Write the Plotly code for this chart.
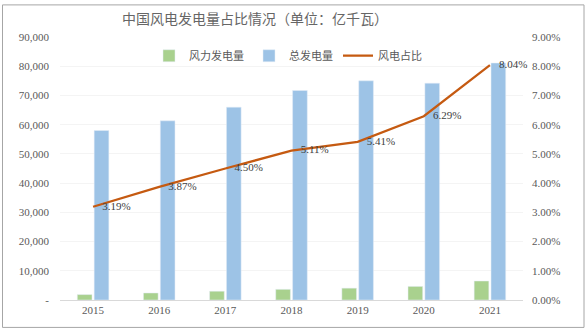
import plotly.graph_objects as go

# Annual figures, 2015-2021
years = ["2015", "2016", "2017", "2018", "2019", "2020", "2021"]
wind_gen = [1850, 2400, 3000, 3650, 4050, 4650, 6500]          # 风力发电量
total_gen = [58000, 61300, 66000, 71700, 75000, 74200, 81100]  # 总发电量
wind_share = [0.0319, 0.0387, 0.0450, 0.0511, 0.0541, 0.0629, 0.0804]  # 风电占比

left_ticks = [0, 10000, 20000, 30000, 40000, 50000, 60000, 70000, 80000, 90000]
left_ticktext = ["-"] + [f"{v:,}" for v in left_ticks[1:]]
right_ticks = [i / 100 for i in range(10)]
right_ticktext = [f"{v * 100:.2f}%" for v in right_ticks]

serif = "Liberation Serif, Times New Roman, serif"
cjk = "Noto Sans CJK SC, sans-serif"
grey = "#595959"

fig = go.Figure()
fig.add_trace(go.Bar(
    x=years, y=wind_gen, name="风力发电量",
    marker=dict(color="#A9D18E"),
))
fig.add_trace(go.Bar(
    x=years, y=total_gen, name="总发电量",
    marker=dict(color="#9DC3E6"),
))
# Invisible markers push the value labels a little to the right of each point
fig.add_trace(go.Scatter(
    x=years, y=wind_share, name="风电占比", yaxis="y2",
    mode="lines+markers+text",
    line=dict(color="#C55A11", width=2.25),
    marker=dict(size=13, color="rgba(0,0,0,0)"),
    text=[f"{v * 100:.2f}%" for v in wind_share],
    textposition="middle right",
    textfont=dict(family=serif, size=11, color="#404040"),
    cliponaxis=False,
))

# Plot area: x 60..523 px, y 36.7..300.5 px
L, R, T, B = 60, 65, 36.7, 31.5
W, H = 588 - L - R, 332 - T - B

def px_x(x):
    return (x - L) / W

def px_y(y):
    return (332 - B - y) / H

fig.update_layout(
    width=588, height=332,
    margin=dict(l=L, r=R, t=T, b=B),
    paper_bgcolor="white", plot_bgcolor="white",
    barmode="group", bargap=0.49, bargroupgap=0.13,
    showlegend=True,
    legend=dict(
        orientation="h", x=px_x(288), y=px_y(55.5),
        xanchor="center", yanchor="middle",
        font=dict(family=cjk, size=11, color=grey),
        bgcolor="rgba(0,0,0,0)", itemwidth=30,
    ),
    xaxis=dict(
        type="category", showline=True, linecolor="#d9d9d9", linewidth=1,
        showgrid=False, ticks="",
        tickfont=dict(family=serif, size=11, color=grey),
    ),
    yaxis=dict(
        range=[0, 90000], tickvals=left_ticks, ticktext=left_ticktext,
        showgrid=True, gridcolor="#f4f4f4", zeroline=False,
        ticks="", ticklabelstandoff=10,
        tickfont=dict(family=serif, size=11, color=grey),
    ),
    yaxis2=dict(
        overlaying="y", side="right",
        range=[0, 0.09], tickvals=right_ticks, ticktext=right_ticktext,
        showgrid=False, zeroline=False, ticks="", ticklabelstandoff=8,
        tickfont=dict(family=serif, size=11, color=grey),
    ),
    annotations=[dict(
        text="中国风电发电量占比情况（单位：亿千瓦）",
        xref="paper", yref="paper", x=px_x(254.5), y=px_y(18),
        xanchor="center", yanchor="middle", showarrow=False,
        font=dict(family=cjk, size=14, color="#666666"),
    )],
    shapes=[dict(
        type="rect", xref="paper", yref="paper",
        x0=px_x(2.5), x1=px_x(584), y0=px_y(328), y1=px_y(4.5),
        line=dict(color="#a6a6a6", width=1), fillcolor="rgba(0,0,0,0)",
        layer="below",
    )],
)

fig.write_html("out.html")
